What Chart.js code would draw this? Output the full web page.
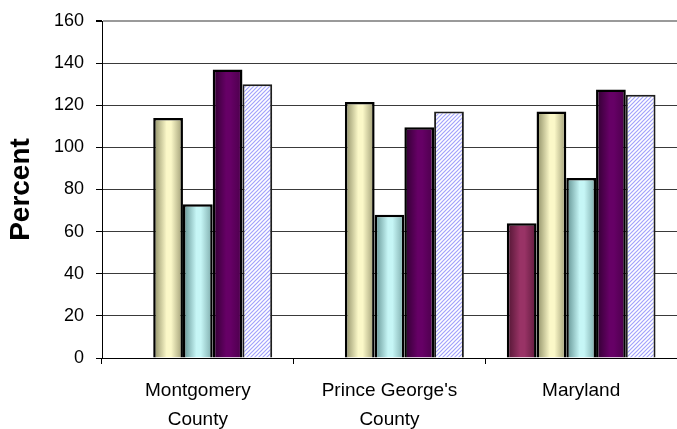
<!DOCTYPE html>
<html>
<head>
<meta charset="utf-8">
<script src="https://cdn.jsdelivr.net/npm/chart.js@4"></script>
<style>
  html, body { margin: 0; padding: 0; background: #ffffff; overflow: hidden; }
  #wrap { width: 677px; height: 429px; position: relative; }
</style>
</head>
<body>
<div id="wrap"><canvas id="c"></canvas></div>
<script>
// Category labels (multi-line) and tick settings
const categories = [['Montgomery', 'County'], ["Prince George's", 'County'], ['Maryland']];
const yMin = 0;
const yMax = 160;
const yStep = 20;

// Series values, percent
const seriesA = [null, null, 64];
const seriesB = [114, 121.5, 117];
const seriesC = [73, 68, 85.5];
const seriesD = [137, 109.5, 127.5];
const seriesE = [130, 117, 125];

const CAT_PCT = 0.776;
const FONT = 'Liberation Sans, Arial, sans-serif';

// Shaded fill across the width of each bar (darker edges, light centre)
function shadedFill(edgeL, mid, edgeR) {
  return (ctx) => {
    const chart = ctx.chart;
    const xs = chart.scales && chart.scales.x;
    if (!xs || ctx.type !== 'data' || !xs.ticks || !xs.ticks.length) return mid;
    const n = chart.data.datasets.length;
    const catW = xs.width / xs.ticks.length;
    const w = catW * CAT_PCT / n;
    const cx = xs.getPixelForValue(ctx.dataIndex) + (ctx.datasetIndex - (n - 1) / 2) * w;
    const g = chart.ctx.createLinearGradient(cx - w / 2, 0, cx + w / 2, 0);
    g.addColorStop(0, edgeL);
    g.addColorStop(0.45, mid);
    g.addColorStop(0.6, mid);
    g.addColorStop(1, edgeR);
    return g;
  };
}

// Fine diagonal hatch for the last series
function hatchPattern() {
  const t = document.createElement('canvas');
  t.width = 4; t.height = 4;
  const c = t.getContext('2d');
  c.fillStyle = '#ffffff';
  c.fillRect(0, 0, 4, 4);
  c.strokeStyle = '#a2a2fb';
  c.lineWidth = 1.2;
  c.beginPath();
  c.moveTo(-1, 5); c.lineTo(5, -1);
  c.moveTo(-1, 1); c.lineTo(1, -1);
  c.moveTo(3, 5); c.lineTo(5, 3);
  c.stroke();
  return document.createElement('canvas').getContext('2d').createPattern(t, 'repeat');
}

const datasets = [
  { label: 'A', data: seriesA, backgroundColor: shadedFill('#4e1430', '#993366', '#5e1a3c'), borderColor: '#000000', borderWidth: 2.5 },
  { label: 'B', data: seriesB, backgroundColor: shadedFill('#8a8a62', '#fbf8c8', '#9c9a72'), borderColor: '#000000', borderWidth: 2.5 },
  { label: 'C', data: seriesC, backgroundColor: shadedFill('#5e8e8e', '#c6f6f6', '#7aa8a8'), borderColor: '#000000', borderWidth: 2.5 },
  { label: 'D', data: seriesD, backgroundColor: shadedFill('#2e002e', '#660066', '#4a004a'), borderColor: '#000000', borderWidth: 2.5 },
  { label: 'E', data: seriesE, backgroundColor: hatchPattern(), borderColor: '#1e1e1e', borderWidth: 2 }
];

new Chart(document.getElementById('c'), {
  type: 'bar',
  data: { labels: categories, datasets: datasets },
  options: {
    responsive: true,
    maintainAspectRatio: false,
    animation: false,
    devicePixelRatio: 1,
    layout: { padding: { top: 20, right: 0, bottom: 0, left: 0 } },
    datasets: { bar: { categoryPercentage: CAT_PCT, barPercentage: 1 } },
    plugins: { legend: { display: false }, tooltip: { enabled: false } },
    scales: {
      x: {
        offset: true,
        grid: { display: true, drawOnChartArea: false, drawTicks: true, tickLength: 6, tickColor: '#000000', lineWidth: 1 },
        border: { display: true, color: '#000000', width: 1 },
        ticks: { color: '#000000', font: { family: FONT, size: 19, lineHeight: 1.55 }, padding: 12, maxRotation: 0, autoSkip: false },
        afterFit: (s) => { s.height = 71; }
      },
      y: {
        min: yMin,
        max: yMax,
        grid: {
          color: (c) => c.tick && c.tick.value === yMax ? '#9a9a9a' : '#3a3a3a',
          lineWidth: (c) => c.tick && c.tick.value === yMax ? 2 : 1,
          tickLength: 6,
          tickColor: '#000000'
        },
        border: { display: true, color: '#000000', width: 1 },
        ticks: { stepSize: yStep, color: '#000000', font: { family: FONT, size: 18, lineHeight: 1 }, padding: 12 },
        title: { display: true, text: 'Percent', color: '#000000', font: { family: FONT, size: 28, weight: 'bold' }, padding: { top: 4, bottom: 0 } },
        afterFit: (s) => { s.width = 102; }
      }
    }
  }
});
</script>
</body>
</html>
